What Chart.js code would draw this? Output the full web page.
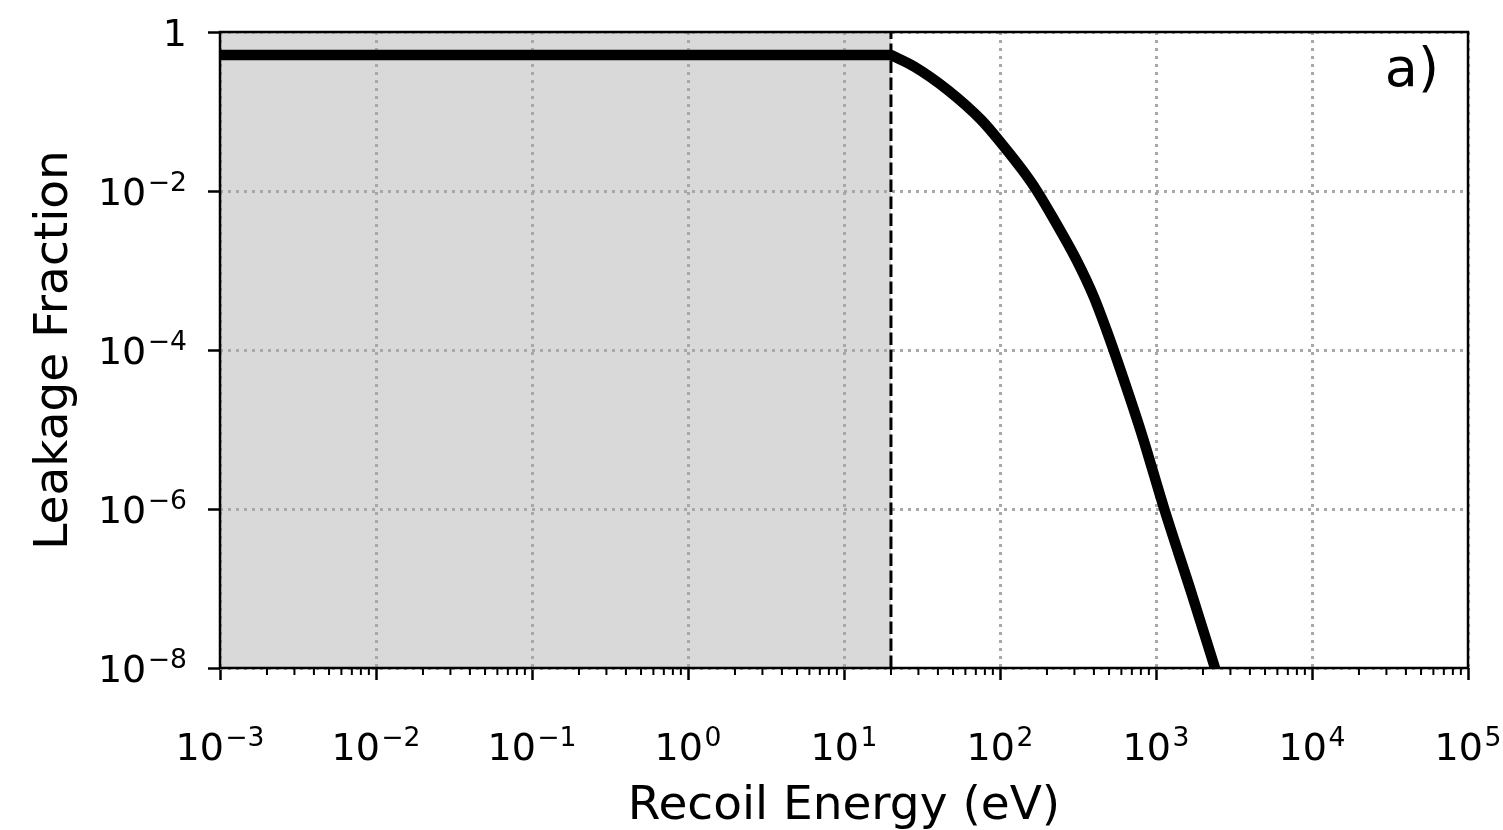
<!DOCTYPE html>
<html><head><meta charset="utf-8">
<script src="https://cdn.jsdelivr.net/npm/chart.js@4.4.0/dist/chart.umd.min.js"></script>
<style>html,body{margin:0;padding:0;background:#fff;overflow:hidden}</style>
</head><body>
<canvas id="c" width="1503" height="830"></canvas>
<script>
// ---- data ----
const flatEnergy = [0.001, 20];
const flatFraction = [0.514, 0.514];
const curveEnergy = [20, 28.3, 46.3, 75.9, 102, 139, 171, 223, 309, 399, 481, 592, 807, 1135, 1690, 2388];
const curveFraction = [0.514, 0.366, 0.186, 0.0782, 0.0398, 0.0184, 0.0103, 4.3e-3, 1.36e-3, 4.68e-4, 1.79e-4, 5.6e-5, 8.95e-6, 9.7e-7, 8.7e-8, 1e-8];
const shadeEnergy = [0.001, 20];
const shadeFraction = [1, 1];
const thresholdEnergy = [20, 20];
const thresholdFraction = [1e-8, 1];
const xTicks = [1e-3, 1e-2, 1e-1, 1e0, 1e1, 1e2, 1e3, 1e4, 1e5];
const xTickBase = ['10', '10', '10', '10', '10', '10', '10', '10', '10'];
const xTickExp = ['−3', '−2', '−1', '0', '1', '2', '3', '4', '5'];
const yTicks = [1e-8, 1e-6, 1e-4, 1e-2, 1];
const yTickBase = ['10', '10', '10', '10', '1'];
const yTickExp = ['−8', '−6', '−4', '−2', ''];
const panelLabel = 'a)';
const xTitle = 'Recoil Energy (eV)';
const yTitle = 'Leakage Fraction';

const pts = (xs, ys) => xs.map((x, i) => ({x: x, y: ys[i]}));
const FONT = 'DejaVu Sans';
const TICK_PX = 38, SUP_PX = 26.6, SUP_RAISE = 14, SUP_GAP = 1.5;

function drawPowerLabel(ctx, base, exp, x, y, align) {
  ctx.font = TICK_PX + 'px "' + FONT + '"';
  const wb = ctx.measureText(base).width;
  ctx.font = SUP_PX + 'px "' + FONT + '"';
  const we = exp ? ctx.measureText(exp).width + SUP_GAP : 0;
  const total = wb + we;
  let x0 = align === 'center' ? x - total / 2 : (align === 'right' ? x - total : x);
  ctx.textAlign = 'left';
  ctx.textBaseline = 'alphabetic';
  ctx.font = TICK_PX + 'px "' + FONT + '"';
  ctx.fillText(base, x0, y);
  if (exp) {
    ctx.font = SUP_PX + 'px "' + FONT + '"';
    ctx.fillText(exp, x0 + wb + SUP_GAP, y - SUP_RAISE);
  }
}

const decorPlugin = {
  id: 'decor',
  afterDatasetsDraw(chart) {
    const {ctx, chartArea: a, scales} = chart;
    const xs = scales.x, ys = scales.y;
    ctx.save();
    // minor x ticks
    ctx.strokeStyle = '#000';
    ctx.lineWidth = 2;
    ctx.beginPath();
    for (let k = 0; k < xTicks.length - 1; k++) {
      for (let m = 2; m <= 9; m++) {
        const px = xs.getPixelForValue(xTicks[k] * m);
        ctx.moveTo(px, a.bottom);
        ctx.lineTo(px, a.bottom + 7);
      }
    }
    ctx.stroke();
    // frame
    ctx.lineWidth = 2.5;
    ctx.strokeRect(a.left, a.top, a.right - a.left, a.bottom - a.top);
    // tick labels with superscripts
    ctx.fillStyle = '#000';
    xTicks.forEach((v, i) => {
      drawPowerLabel(ctx, xTickBase[i], xTickExp[i], xs.getPixelForValue(v), a.bottom + 92, 'center');
    });
    yTicks.forEach((v, i) => {
      drawPowerLabel(ctx, yTickBase[i], yTickExp[i], a.left - 33, ys.getPixelForValue(v) + 14, 'right');
    });
    // panel label
    ctx.font = '54px "' + FONT + '"';
    ctx.textAlign = 'right';
    ctx.textBaseline = 'alphabetic';
    ctx.fillText(panelLabel, a.right - 29, a.top + 54);
    ctx.restore();
  }
};

const gridCommon = {
  color: '#a8a8a8',
  lineWidth: 3,
  drawTicks: true,
  tickLength: 12,
  tickColor: '#000',
  tickWidth: 2.5,
  tickBorderDash: [],
};

new Chart(document.getElementById('c'), {
  type: 'line',
  data: {
    datasets: [
      {data: pts(curveEnergy, curveFraction), borderColor: '#000', borderWidth: 10.5, pointRadius: 0,
       cubicInterpolationMode: 'monotone', fill: false, order: 0, clip: 0,
       borderCapStyle: 'round', borderJoinStyle: 'round'},
      {data: pts(flatEnergy, flatFraction), borderColor: '#000', borderWidth: 10.5, pointRadius: 0,
       fill: false, order: 1, clip: 0, borderCapStyle: 'butt'},
      {data: pts(thresholdEnergy, thresholdFraction), borderColor: '#000', borderWidth: 3,
       borderDash: [12.5, 4.5], pointRadius: 0, fill: false, order: 2, clip: 0},
      {data: pts(shadeEnergy, shadeFraction), borderWidth: 0, borderColor: 'rgba(0,0,0,0)',
       backgroundColor: '#d9d9d9', pointRadius: 0, fill: 'start', order: 3, clip: 0}
    ]
  },
  options: {
    responsive: false,
    animation: false,
    devicePixelRatio: 1,
    layout: {padding: {top: 32, right: 35, left: 0, bottom: 0}},
    plugins: {legend: {display: false}, tooltip: {enabled: false}, filler: {drawTime: 'beforeDraw'}},
    scales: {
      x: {
        type: 'logarithmic', min: 1e-3, max: 1e5,
        afterBuildTicks: s => { s.ticks = xTicks.map(v => ({value: v})); },
        afterFit: s => { s.height = 162; s.paddingLeft = 0; s.paddingRight = 0; s.paddingTop = 0; s.paddingBottom = 0; },
        ticks: {display: false, autoSkip: false, maxRotation: 0},
        grid: gridCommon,
        border: {display: false, dash: [3, 5]},
        title: {display: true, text: xTitle, color: '#000', font: {family: FONT, size: 47, lineHeight: 1},
                padding: {top: 0, bottom: 0}}
      },
      y: {
        type: 'logarithmic', min: 1e-8, max: 1,
        afterBuildTicks: s => { s.ticks = yTicks.map(v => ({value: v})); },
        afterFit: s => { s.width = 220; s.paddingLeft = 0; s.paddingRight = 0; s.paddingTop = 0; s.paddingBottom = 0; },
        ticks: {display: false, autoSkip: false},
        grid: gridCommon,
        border: {display: false, dash: [3, 5]},
        title: {display: true, text: yTitle, color: '#000', font: {family: FONT, size: 47, lineHeight: 1},
                padding: {top: 31, bottom: 0}}
      }
    }
  },
  plugins: [decorPlugin]
});
</script>
</body></html>
